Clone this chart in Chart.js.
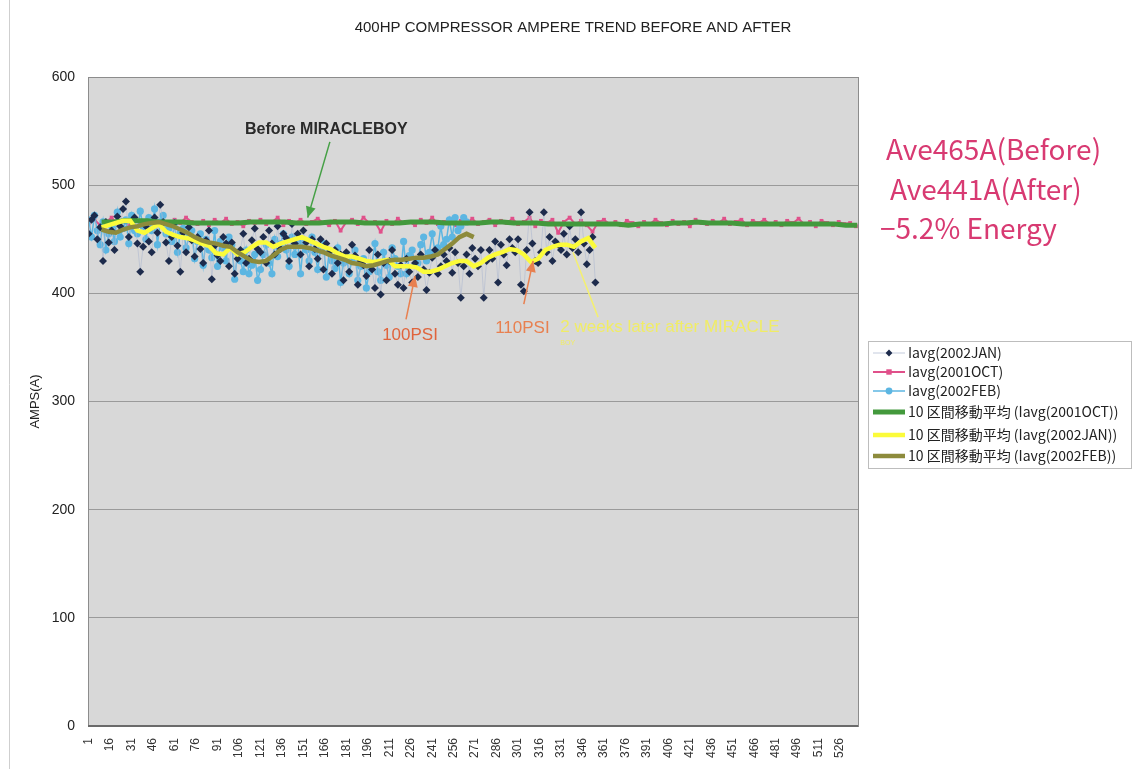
<!DOCTYPE html>
<html>
<head>
<meta charset="utf-8">
<script src="https://cdn.jsdelivr.net/npm/chart.js@4"></script>
<style>
html,body{margin:0;padding:0;background:#fff;}
#wrap{width:1136px;height:769px;position:relative;}
</style>
</head>
<body>
<div id="wrap"><canvas id="chart"></canvas></div>
<script>
// category axis: 1 .. lastCategory, label every 15
const lastCategory = 538;
const tickLabels = [1,16,31,46,61,76,91,106,121,136,151,166,181,196,211,226,241,256,271,286,
  301,316,331,346,361,376,391,406,421,436,451,466,481,496,511,526];

// Iavg(2001OCT) - read every 4th category from 1
const octStep = 4;
const octValues = [
  465,468,463,466,470,464,467,462,468,465,
  466,469,464,467,463,468,465,470,466,464,
  467,463,468,465,469,464,466,462,467,465,
  468,464,466,470,463,467,465,468,464,466,
  469,465,463,467,458,466,468,464,470,465,
  466,457,467,464,469,465,466,463,468,465,
  470,464,466,468,463,467,465,469,464,466,
  468,463,467,465,469,464,466,470,462,467,
  465,468,456,466,470,464,467,463,457,466,
  468,464,466,463,467,465,462,466,464,468,
  465,463,467,464,466,462,468,465,464,467,
  465,469,464,466,468,463,467,465,468,464,
  466,463,467,465,469,464,466,462,467,465,
  463,466,464,465,462
];

// Iavg(2002JAN) - every 2nd category from 1
const janStep = 2;
const janValues = [
  455,468,472,450,461,430,466,447,458,440,
  471,462,478,485,452,466,470,446,420,443,
  462,448,438,470,456,482,466,447,430,452,
  465,444,420,456,438,461,449,434,452,441,
  428,449,458,413,444,435,430,452,446,425,
  447,418,432,440,455,428,432,449,460,441,
  438,452,428,458,446,436,462,441,455,451,
  430,464,446,455,436,458,447,425,450,441,
  432,450,422,446,438,418,440,428,436,412,
  438,420,445,435,408,430,426,416,440,422,
  405,436,399,428,412,430,440,418,408,426,
  405,432,420,410,428,415,436,422,403,419,
  433,440,418,425,436,430,442,419,438,428,
  396,425,436,418,442,432,425,440,396,430,
  440,432,448,410,445,436,426,450,442,438,
  450,408,402,440,475,446,430,428,438,475,
  438,452,430,448,445,440,455,436,462,442,
  450,438,475,446,427,440,452,410
];

// Iavg(2002FEB) - every 2nd category from 1
const febStep = 2;
const febValues = [
  468,452,472,458,445,466,440,455,462,448,
  475,452,460,468,446,472,458,455,476,462,
  450,470,458,478,445,466,472,455,460,448,
  465,438,456,460,442,452,458,432,448,455,
  426,450,440,433,458,425,448,442,430,452,
  445,413,438,430,420,440,418,426,436,412,
  422,436,445,428,418,450,434,446,455,440,
  425,452,436,448,418,446,440,430,452,438,
  422,440,446,415,438,430,423,442,410,428,
  436,418,432,440,412,425,432,405,420,428,
  446,420,412,438,426,415,442,432,425,418,
  448,418,435,440,426,428,445,452,430,438,
  455,438,442,462,445,450,468,452,470,458,
  462,470,466
];

// 10 区間移動平均 lines
const maOctStart = 10, maOctStep = 8;
const maOctValues = [
  466,466,467,467,467,466,466,466,465,465,
  465,465,465,466,466,466,466,465,465,465,
  466,466,466,465,465,465,465,466,466,466,
  465,465,465,465,466,466,465,465,465,464,
  464,464,464,464,464,464,463,464,464,464,
  465,465,466,465,465,465,464,464,464,464,
  464,464,464,464,464,463,463
];
const maJanStart = 10, maJanStep = 5;
const maJanValues = [
  461,463,465,467,467,458,456,460,464,457,
  454,452,451,449,446,444,437,436,442,436,
  438,443,447,447,443,446,448,450,452,449,
  446,443,441,437,434,434,432,430,429,430,
  431,425,425,425,424,420,420,422,425,428,
  430,430,425,428,433,436,438,441,440,436,
  429,432,440,443,445,445,443,448,451,442
];
const maFebStart = 10, maFebStep = 5;
const maFebValues = [
  459,457,456,459,461,462,464,465,466,464,
  462,459,456,452,449,447,446,444,443,438,
  434,430,429,430,435,440,443,443,443,442,
  440,438,435,433,431,428,427,425,426,428,
  430,431,431,432,433,433,434,436,441,446,
  452,455,452
];

function toPoints(values, first, step){
  return values.map((v,i)=>({x: first + i*step, y: v}));
}

function arrow(ctx, x1, y1, x2, y2, color, w){
  ctx.strokeStyle = color; ctx.fillStyle = color; ctx.lineWidth = w;
  ctx.beginPath(); ctx.moveTo(x1,y1); ctx.lineTo(x2,y2); ctx.stroke();
  const ang = Math.atan2(y2-y1, x2-x1), L = 11, W = 5;
  ctx.beginPath(); ctx.moveTo(x2,y2);
  ctx.lineTo(x2-L*Math.cos(ang)+W*Math.sin(ang), y2-L*Math.sin(ang)-W*Math.cos(ang));
  ctx.lineTo(x2-L*Math.cos(ang)-W*Math.sin(ang), y2-L*Math.sin(ang)+W*Math.cos(ang));
  ctx.closePath(); ctx.fill();
}

function marker(ctx, style, x, y, r, color){
  ctx.fillStyle = color;
  ctx.beginPath();
  if(style === 'rectRot'){
    ctx.moveTo(x, y-r); ctx.lineTo(x+r, y); ctx.lineTo(x, y+r); ctx.lineTo(x-r, y);
  } else if(style === 'rect'){
    ctx.rect(x-r, y-r, 2*r, 2*r);
  } else {
    ctx.arc(x, y, r, 0, Math.PI*2);
  }
  ctx.closePath(); ctx.fill();
}

const extras = {
  id: 'extras',
  beforeDraw(chart){
    const {ctx, chartArea: a} = chart;
    ctx.save();
    ctx.fillStyle = '#fff';
    ctx.fillRect(0, 0, chart.width, chart.height);
    ctx.fillStyle = '#d8d8d8';
    ctx.fillRect(a.left, a.top, a.right-a.left, a.bottom-a.top);
    // scan page edge
    ctx.strokeStyle = '#cfcfcf'; ctx.lineWidth = 1;
    ctx.beginPath(); ctx.moveTo(9.5, 0); ctx.lineTo(9.5, chart.height); ctx.stroke();
    ctx.restore();
  },
  afterDraw(chart){
    const {ctx, chartArea: a} = chart;
    const xs = chart.scales.x, ys = chart.scales.y;
    const px = v => xs.getPixelForValue(v), py = v => ys.getPixelForValue(v);
    ctx.save();
    // plot frame
    ctx.strokeStyle = '#8c8c8c'; ctx.lineWidth = 1;
    ctx.strokeRect(a.left+0.5, a.top+0.5, a.right-a.left, a.bottom-a.top);
    ctx.strokeStyle = '#6a6a6a'; ctx.lineWidth = 2;
    ctx.beginPath(); ctx.moveTo(a.left, a.bottom); ctx.lineTo(a.right, a.bottom); ctx.stroke();

    // title
    ctx.textBaseline = 'middle'; ctx.textAlign = 'center';
    ctx.fillStyle = '#222';
    ctx.font = '15px "Liberation Sans", Arial, sans-serif';
    ctx.fillText('400HP COMPRESSOR AMPERE TREND BEFORE AND AFTER', 573, 28);

    // annotations inside the plot
    ctx.font = 'bold 16px "Liberation Sans", Arial, sans-serif';
    ctx.fillStyle = '#2a2a2a';
    ctx.fillText('Before MIRACLEBOY', px(167), py(551));
    arrow(ctx, px(169.5), py(540), px(154), py(470), '#45a045', 1.5);

    ctx.font = '17px "Liberation Sans", Arial, sans-serif';
    ctx.fillStyle = '#e0643c';
    ctx.fillText('100PSI', px(225.5), py(361));
    arrow(ctx, px(222.7), py(376), px(229), py(416), '#e88050', 1.5);
    ctx.fillText('110PSI', px(304), py(368));
    arrow(ctx, px(305), py(390), px(311.5), py(430), '#e88050', 1.5);

    ctx.strokeStyle = '#f4f070'; ctx.lineWidth = 1.5;
    ctx.beginPath(); ctx.moveTo(px(339.4), py(438)); ctx.lineTo(px(356.9), py(378)); ctx.stroke();
    ctx.fillStyle = '#f0ec66'; ctx.textAlign = 'left';
    ctx.font = '17px "Liberation Sans", Arial, sans-serif';
    ctx.fillText('2 weeks later after MIRACLE', px(330.5), py(368.5));
    ctx.font = '7px "Liberation Sans", Arial, sans-serif';
    ctx.fillText('BOY', px(330.5), py(354));

    // summary text on the right
    ctx.fillStyle = '#d83a72';
    ctx.font = '28px "Noto Sans CJK JP", "Noto Sans", sans-serif';
    ctx.fillText('Ave465A(Before)', a.right + 28, 149);
    ctx.fillText('Ave441A(After)', a.right + 32, 189);
    ctx.fillText('\u22125.2% Energy', a.right + 22, 228);

    // legend
    const lx = 868, ly = 341, lw = 263, lh = 127;
    ctx.fillStyle = '#fff';
    ctx.fillRect(lx, ly, lw, lh);
    ctx.strokeStyle = '#bdbdbd'; ctx.lineWidth = 1;
    ctx.strokeRect(lx+0.5, ly+0.5, lw, lh);
    const rows = [353, 372, 391, 412, 435, 456];
    ctx.font = '14px "Noto Sans CJK JP", sans-serif';
    chart.data.datasets.forEach((ds, i) => {
      const y = rows[i];
      ctx.strokeStyle = ds.borderColor;
      ctx.lineWidth = ds.pointRadius > 0 ? Math.max(ds.borderWidth, 1) : ds.borderWidth;
      ctx.beginPath(); ctx.moveTo(lx+5, y); ctx.lineTo(lx+37, y); ctx.stroke();
      if(ds.pointRadius > 0) marker(ctx, ds.pointStyle, lx+21, y, Math.min(ds.pointRadius, 3.4), ds.pointBackgroundColor);
      ctx.fillStyle = '#222'; ctx.textAlign = 'left';
      ctx.fillText(ds.label, lx+40, y);
    });
    ctx.restore();
  }
};

const lineBase = {showLine: true, tension: 0, fill: false, pointBorderWidth: 0, pointHoverRadius: 0};

new Chart(document.getElementById('chart'), {
  type: 'scatter',
  data: {
    datasets: [
      Object.assign({}, lineBase, {
        label: 'Iavg(2002JAN)', data: toPoints(janValues, 1, janStep),
        borderColor: 'rgba(175,185,208,0.75)', borderWidth: 0.8,
        pointStyle: 'rectRot', pointRadius: 4, pointBackgroundColor: '#1d2b4c', order: 3
      }),
      Object.assign({}, lineBase, {
        label: 'Iavg(2001OCT)', data: toPoints(octValues, 1, octStep),
        borderColor: '#e0508a', borderWidth: 2,
        pointStyle: 'rect', pointRadius: 2.7, pointBackgroundColor: '#e0508a', order: 5
      }),
      Object.assign({}, lineBase, {
        label: 'Iavg(2002FEB)', data: toPoints(febValues, 1, febStep),
        borderColor: '#5cb6e2', borderWidth: 1.5,
        pointStyle: 'circle', pointRadius: 3.6, pointBackgroundColor: '#5cb6e2', order: 4
      }),
      Object.assign({}, lineBase, {
        label: '10 区間移動平均 (Iavg(2001OCT))', data: toPoints(maOctValues, maOctStart, maOctStep),
        borderColor: '#43993c', borderWidth: 5, pointRadius: 0, order: 2
      }),
      Object.assign({}, lineBase, {
        label: '10 区間移動平均 (Iavg(2002JAN))', data: toPoints(maJanValues, maJanStart, maJanStep),
        borderColor: '#fbfb3a', borderWidth: 4.5, pointRadius: 0, order: 1
      }),
      Object.assign({}, lineBase, {
        label: '10 区間移動平均 (Iavg(2002FEB))', data: toPoints(maFebValues, maFebStart, maFebStep),
        borderColor: '#8d8b3c', borderWidth: 4.5, pointRadius: 0, order: 0
      })
    ]
  },
  options: {
    responsive: true,
    maintainAspectRatio: false,
    animation: false,
    events: [],
    layout: {padding: {left: 0, right: 278, top: 77, bottom: 0}},
    plugins: {
      legend: {display: false},
      tooltip: {enabled: false},
      title: {display: false}
    },
    scales: {
      x: {
        type: 'linear',
        min: 0.5, max: lastCategory + 0.5,
        grid: {display: false},
        border: {display: false},
        afterBuildTicks: s => { s.ticks = tickLabels.map(v => ({value: v})); },
        afterFit: s => { s.height = 43; },
        ticks: {
          autoSkip: false, minRotation: 90, maxRotation: 90, padding: 4,
          color: '#333', font: {family: '"Liberation Sans", Arial, sans-serif', size: 12},
          callback: v => String(v)
        }
      },
      y: {
        min: 0, max: 600,
        afterFit: s => { s.width = 88; },
        grid: {color: '#9a9a9a', lineWidth: 1, drawTicks: false},
        border: {display: false},
        ticks: {
          stepSize: 100, padding: 13, color: '#222',
          font: {family: '"Liberation Sans", Arial, sans-serif', size: 14}
        },
        title: {
          display: true, text: 'AMPS(A)', color: '#222', padding: {top: 28, bottom: 0},
          font: {family: '"Liberation Sans", Arial, sans-serif', size: 13}
        }
      }
    }
  },
  plugins: [extras]
});
</script>
</body>
</html>
